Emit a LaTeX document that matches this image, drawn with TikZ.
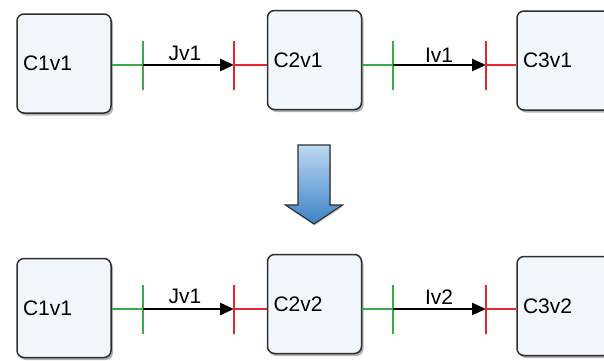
\documentclass[tikz,border=0pt]{standalone}
\usepackage{fontspec}
\setmainfont{Liberation Sans}
\usetikzlibrary{arrows.meta,shadows}
\definecolor{boxfill}{HTML}{F1F7FC}
\definecolor{boxedge}{HTML}{2E2E2E}
\definecolor{portgreen}{HTML}{3DAA4A}
\definecolor{portred}{HTML}{E8262E}
\definecolor{arrowtop}{HTML}{BCD9F3}
\definecolor{arrowbottom}{HTML}{3D81C8}

\begin{document}
\begin{tikzpicture}[x=1pt, y=-1pt,
    comp/.style={draw=boxedge, line width=1.5pt, fill=boxfill,
      rounded corners=7pt, minimum width=94pt, minimum height=99pt,
      text width=82pt, inner sep=6pt, align=left,
      font=\fontsize{21}{25}\selectfont,
      drop shadow={shadow xshift=2pt, shadow yshift=-2.5pt, opacity=0.6}},
    lbl/.style={font=\fontsize{21}{25}\selectfont, inner sep=0pt},
    outwire/.style={portgreen, line width=2.6pt},
    inwire/.style={portred, line width=2.6pt},
    link/.style={black, line width=2.6pt, -{Triangle[length=14pt, width=12pt]}}]
    \useasboundingbox (0, 0) rectangle (604, 360);
    \clip (0, 0) rectangle (604, 360);

    % before
    \node[comp](c1a) at (64, 63.5){C1v1};
    \node[comp](c2a) at (314.5, 60){C2v1};
    \node[comp](c3a) at (564, 60.5){C3v1};
    \coordinate (ga) at (143, 65);
    \coordinate (ra) at (234, 65);
    \coordinate (gb) at (393, 65);
    \coordinate (rb) at (486, 65);
    % Jv1
    \draw [outwire] (c1a.east |- ga) -- (ga);
    \draw [outwire] (ga) ++(0, -24.5) -- ++(0, 49);
    \draw [link] (ga) -- (ra);
    \draw [inwire] (ra) -- (ra -| c2a.west);
    \draw [inwire] (ra) ++(0, -24.5) -- ++(0, 49);
    \node[lbl](jva) at (185, 53){Jv1};
    % Iv1
    \draw [outwire] (c2a.east |- gb) -- (gb);
    \draw [outwire] (gb) ++(0, -24.5) -- ++(0, 49);
    \draw [link] (gb) -- (rb);
    \draw [inwire] (rb) -- (rb -| c3a.west);
    \draw [inwire] (rb) ++(0, -24.5) -- ++(0, 49);
    \node[lbl](iva) at (439, 55){Iv1};

    % the down arrow
    \draw [boxedge, line width=1.2pt, top color=arrowtop, bottom color=arrowbottom,
      drop shadow={shadow xshift=1pt, shadow yshift=-1.5pt, opacity=0.35}]
      (298, 145) -- (330, 145) -- (330, 205) -- (342.5, 205) -- (314, 224)
      -- (285.5, 205) -- (298, 205) -- cycle;

    % after
    \node[comp](c1b) at (64, 308){C1v1};
    \node[comp](c2b) at (314.5, 304){C2v2};
    \node[comp](c3b) at (564, 306){C3v2};
    \coordinate (gc) at (143, 309);
    \coordinate (rc) at (234, 309);
    \coordinate (gd) at (393, 309);
    \coordinate (rd) at (486, 309);
    % Jv1
    \draw [outwire] (c1b.east |- gc) -- (gc);
    \draw [outwire] (gc) ++(0, -24.5) -- ++(0, 49);
    \draw [link] (gc) -- (rc);
    \draw [inwire] (rc) -- (rc -| c2b.west);
    \draw [inwire] (rc) ++(0, -24.5) -- ++(0, 49);
    \node[lbl](jvb) at (185, 296){Jv1};
    % Iv2
    \draw [outwire] (c2b.east |- gd) -- (gd);
    \draw [outwire] (gd) ++(0, -24.5) -- ++(0, 49);
    \draw [link] (gd) -- (rd);
    \draw [inwire] (rd) -- (rd -| c3b.west);
    \draw [inwire] (rd) ++(0, -24.5) -- ++(0, 49);
    \node[lbl](ivb) at (439, 297){Iv2};
\end{tikzpicture}
\end{document}
